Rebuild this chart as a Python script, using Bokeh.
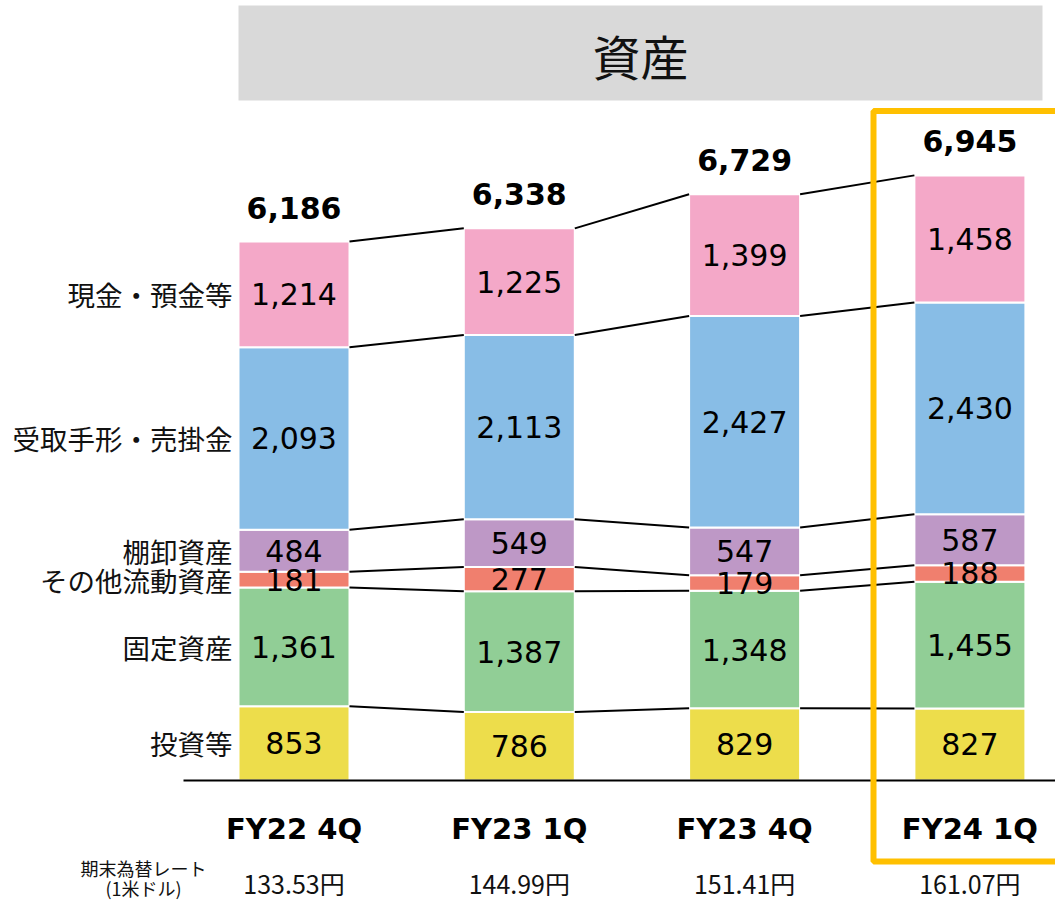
from bokeh.plotting import figure
from bokeh.models import ColumnDataSource, Range1d
from bokeh.core.properties import value
from bokeh.embed import file_html
from bokeh.resources import INLINE

# ---------------- data ----------------
periods = ["FY22 4Q", "FY23 1Q", "FY23 4Q", "FY24 1Q"]
rates = ["133.53円", "144.99円", "151.41円", "161.07円"]
rate_label = ["期末為替レート", "(1米ドル)"]
title = "資産"
categories = ["投資等", "固定資産", "その他流動資産", "棚卸資産", "受取手形・売掛金", "現金・預金等"]
investments = [853, 786, 829, 827]
fixed_assets = [1361, 1387, 1348, 1455]
other_current = [181, 277, 179, 188]
inventories = [484, 549, 547, 587]
receivables = [2093, 2113, 2427, 2430]
cash = [1214, 1225, 1399, 1458]
totals = [6186, 6338, 6729, 6945]
colors = ["#EDDD4B", "#91CE96", "#F07F6E", "#BE98C6", "#88BDE6", "#F4A8C8"]

series = [investments, fixed_assets, other_current, inventories, receivables, cash]
keys = ["inv", "fix", "oth", "invt", "rec", "cash"]

# ---------------- layout ----------------
W, H = 1055, 903
PX_X = 225.3          # pixels per category step
PX_Y = 0.08713        # pixels per value unit
X0_REF = 293.5        # reference pixel of first bar centre
Y0_REF = 780.0        # reference pixel of baseline

def X(ref_px):
    return (ref_px - X0_REF) / PX_X

def V(ref_py):
    return (Y0_REF - ref_py) / PX_Y

BW = 111 / PX_X

p = figure(width=W, height=H, output_backend="svg", toolbar_location=None,
           x_range=Range1d(X(0), X(W)),
           y_range=Range1d(V(H), V(0)),
           x_axis_type=None, y_axis_type=None, min_border=0)
p.outline_line_color = None
p.background_fill_color = "white"
p.border_fill_color = "white"

JP = value("Noto Sans CJK JP")
NUM = value("DejaVu Sans")

# title box
p.quad(left=[X(238)], right=[X(1042)], top=[V(5)], bottom=[V(100)],
       fill_color="#D9D9D9", line_color=None)
p.text(x=[X(640)], y=[V(54)], text=[title], text_font=JP, text_font_size="48px",
       text_align="center", text_baseline="middle", text_color="#111111")

# stacked bars
xs = list(range(len(periods)))
data = {"x": xs}
for k, s in zip(keys, series):
    data[k] = s
src = ColumnDataSource(data)
p.vbar_stack(keys, x="x", width=BW, source=src, color=colors,
             line_color="white", line_width=2)

# cumulative boundaries
cum = []
run = [0] * len(periods)
for s in series:
    base = list(run)
    run = [a + b for a, b in zip(run, s)]
    cum.append((base, list(run)))

# segment labels
lx, ly, lt = [], [], []
for (base, top), s in zip(cum, series):
    for i in xs:
        lx.append(i)
        ly.append(base[i] + s[i] / 2)
        lt.append(f"{s[i]:,}")
p.text(x=lx, y=ly, text=lt, text_font=NUM, text_font_size="30px",
       text_align="center", text_baseline="middle", text_color="black")

# connector lines
x0s, y0s, x1s, y1s = [], [], [], []
for base, top in cum:
    for i in xs[:-1]:
        x0s.append(i + BW / 2)
        y0s.append(top[i])
        x1s.append(i + 1 - BW / 2)
        y1s.append(top[i + 1])
p.segment(x0=x0s, y0=y0s, x1=x1s, y1=y1s, line_color="black", line_width=2)

# totals
p.text(x=xs, y=[t + 34 / PX_Y for t in totals], text=[f"{t:,}" for t in totals],
       text_font=NUM, text_font_style="bold", text_font_size="30px",
       text_align="center", text_baseline="middle", text_color="black")

# baseline
p.segment(x0=[X(183)], y0=[0], x1=[X(1070)], y1=[0], line_color="black", line_width=2)

# category labels on left (centred on first bar segments)
p.text(x=[-BW / 2 - 6 / PX_X] * len(categories),
       y=[base[0] + s[0] / 2 for (base, top), s in zip(cum, series)],
       text=categories, text_font=JP, text_font_size="27.5px",
       text_align="right", text_baseline="middle", text_color="#111111")

# period labels
p.text(x=xs, y=[V(828)] * len(xs), text=periods, text_font=NUM, text_font_style="bold",
       text_font_size="29px", text_align="center", text_baseline="middle", text_color="black")

# exchange rates
p.text(x=xs, y=[V(882)] * len(xs), text=rates, text_font=JP, text_font_size="25px",
       text_align="center", text_baseline="middle", text_color="#111111")
p.text(x=[X(143)] * 2, y=[V(867), V(887)], text=rate_label, text_font=JP,
       text_font_size="18px", text_align="center", text_baseline="middle",
       text_color="#111111")

# highlight box around latest period
p.quad(left=[X(873)], right=[X(1058)], top=[V(110.5)], bottom=[V(861)],
       fill_color=None, line_color="#FFC000", line_width=6)

open("out.html", "w").write(file_html(p, INLINE))
